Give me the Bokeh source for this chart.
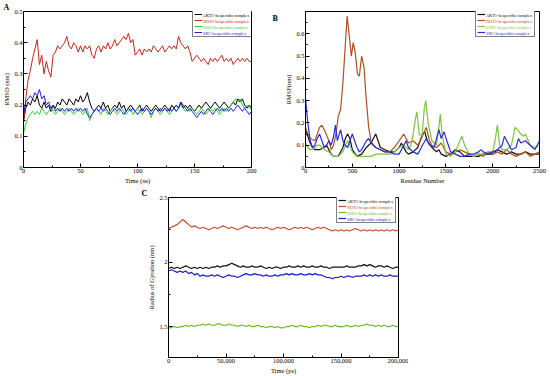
from bokeh.plotting import figure
from bokeh.models import (Legend, LegendItem, Label, FixedTicker, NumeralTickFormatter,
                          Range1d, Spacer)
from bokeh.layouts import row, column
from bokeh.embed import file_html
from bokeh.resources import INLINE

SERIF = "Liberation Serif"
LABELS = ["AKT1-hesperidin complex", "NOS3-hesperidin complex",
          "ESR1-hesperidin complex", "SRC-hesperidin complex"]

# ---------------- Panel A : RMSD (nm) vs Time (ns) ----------------
tA = list(range(0, 201, 2))
rmsd_akt1 = [0.15, 0.19, 0.21, 0.20, 0.22, 0.21, 0.23, 0.20, 0.19, 0.21,
             0.19, 0.20, 0.18, 0.20, 0.19, 0.21, 0.20, 0.22, 0.21, 0.20,
             0.22, 0.21, 0.20, 0.22, 0.21, 0.23, 0.21, 0.22, 0.24, 0.21,
             0.19, 0.18, 0.19, 0.20, 0.19, 0.21, 0.19, 0.20, 0.18, 0.19,
             0.20, 0.19, 0.21, 0.19, 0.20, 0.18, 0.19, 0.20, 0.19, 0.18,
             0.19, 0.20, 0.18, 0.19, 0.20, 0.19, 0.18, 0.19, 0.20, 0.19,
             0.18, 0.19, 0.20, 0.19, 0.18, 0.20, 0.19, 0.20, 0.19, 0.21,
             0.19, 0.20, 0.19, 0.20, 0.19, 0.18, 0.19, 0.20, 0.19, 0.20,
             0.21, 0.20, 0.19, 0.20, 0.21, 0.20, 0.19, 0.20, 0.21, 0.20,
             0.19, 0.20, 0.21, 0.20, 0.22, 0.21, 0.22, 0.20, 0.19, 0.20,
             0.19]
rmsd_nos3 = [0.14, 0.22, 0.28, 0.31, 0.35, 0.38, 0.41, 0.33, 0.36, 0.30,
             0.34, 0.31, 0.29, 0.36, 0.37, 0.39, 0.38, 0.39, 0.40, 0.42,
             0.39, 0.38, 0.40, 0.39, 0.37, 0.39, 0.37, 0.39, 0.38, 0.39,
             0.36, 0.35, 0.38, 0.39, 0.37, 0.39, 0.38, 0.40, 0.38, 0.39,
             0.41, 0.39, 0.40, 0.41, 0.42, 0.41, 0.43, 0.40, 0.41, 0.36,
             0.37, 0.38, 0.36, 0.38, 0.37, 0.38, 0.37, 0.39, 0.38, 0.37,
             0.38, 0.39, 0.37, 0.38, 0.39, 0.38, 0.39, 0.38, 0.42, 0.40,
             0.39, 0.38, 0.39, 0.37, 0.34, 0.35, 0.36, 0.35, 0.34, 0.35,
             0.34, 0.33, 0.35, 0.34, 0.35, 0.34, 0.35, 0.36, 0.34, 0.35,
             0.34, 0.35, 0.33, 0.34, 0.35, 0.34, 0.35, 0.34, 0.35, 0.34,
             0.34]
rmsd_esr1 = [0.11, 0.14, 0.16, 0.17, 0.18, 0.17, 0.18, 0.17, 0.19, 0.18,
             0.17, 0.18, 0.19, 0.18, 0.17, 0.18, 0.19, 0.18, 0.17, 0.18,
             0.19, 0.18, 0.17, 0.18, 0.19, 0.18, 0.17, 0.18, 0.19, 0.15,
             0.17, 0.18, 0.19, 0.18, 0.17, 0.19, 0.18, 0.17, 0.18, 0.19,
             0.18, 0.17, 0.18, 0.19, 0.18, 0.17, 0.18, 0.19, 0.17, 0.18,
             0.19, 0.18, 0.17, 0.18, 0.19, 0.18, 0.16, 0.18, 0.19, 0.18,
             0.17, 0.18, 0.19, 0.18, 0.17, 0.18, 0.19, 0.18, 0.19, 0.20,
             0.19, 0.18, 0.19, 0.18, 0.19, 0.18, 0.17, 0.18, 0.19, 0.18,
             0.17, 0.18, 0.19, 0.18, 0.19, 0.18, 0.17, 0.18, 0.19, 0.18,
             0.19, 0.20, 0.21, 0.22, 0.21, 0.22, 0.20, 0.19, 0.20, 0.19,
             0.19]
rmsd_src = [0.17, 0.21, 0.22, 0.23, 0.22, 0.24, 0.23, 0.25, 0.22, 0.23,
            0.20, 0.21, 0.19, 0.20, 0.18, 0.19, 0.18, 0.19, 0.18, 0.19,
            0.18, 0.19, 0.18, 0.19, 0.18, 0.19, 0.18, 0.19, 0.17, 0.16,
            0.17, 0.18, 0.19, 0.18, 0.19, 0.18, 0.19, 0.18, 0.17, 0.18,
            0.19, 0.18, 0.19, 0.18, 0.17, 0.18, 0.19, 0.18, 0.19, 0.18,
            0.17, 0.18, 0.19, 0.18, 0.19, 0.18, 0.17, 0.18, 0.19, 0.18,
            0.19, 0.18, 0.19, 0.18, 0.19, 0.18, 0.19, 0.18, 0.19, 0.21,
            0.20, 0.19, 0.18, 0.19, 0.18, 0.17, 0.16, 0.17, 0.18, 0.17,
            0.18, 0.19, 0.18, 0.17, 0.18, 0.19, 0.18, 0.19, 0.18, 0.19,
            0.18, 0.19, 0.18, 0.19, 0.20, 0.19, 0.18, 0.19, 0.18, 0.17,
            0.18]

# ---------------- Panel B : RMSF (nm) vs Residue Number ----------------
res_akt1 = [0, 25, 50, 75, 100, 150, 200, 225, 250, 275,
            300, 350, 400, 425, 450, 475, 500, 550, 600, 650,
            700, 725, 750, 775, 800, 850, 900, 950, 1000, 1025,
            1050, 1075, 1100, 1150, 1200, 1250, 1275, 1300, 1350, 1400,
            1425, 1450, 1500, 1550, 1600, 1650, 1700, 1750, 1800, 1850,
            1900, 1950, 2000, 2050, 2100, 2150, 2200, 2250, 2300, 2350,
            2400, 2450, 2500]
rmsf_akt1 = [0.17, 0.14, 0.11, 0.09, 0.08, 0.08, 0.09, 0.10, 0.08, 0.06,
             0.05, 0.05, 0.09, 0.13, 0.15, 0.13, 0.08, 0.05, 0.06, 0.09,
             0.11, 0.13, 0.15, 0.12, 0.09, 0.08, 0.07, 0.07, 0.09, 0.11,
             0.09, 0.07, 0.06, 0.07, 0.09, 0.15, 0.16, 0.12, 0.09, 0.07,
             0.08, 0.06, 0.05, 0.06, 0.08, 0.07, 0.05, 0.05, 0.05, 0.05,
             0.06, 0.06, 0.06, 0.08, 0.07, 0.06, 0.07, 0.06, 0.06, 0.07,
             0.06, 0.06, 0.06]
res_nos3 = [0, 25, 50, 100, 150, 175, 200, 250, 275, 300,
            325, 350, 375, 400, 425, 445, 470, 490, 510, 530,
            555, 575, 600, 625, 650, 675, 700, 725, 750, 800,
            850, 900, 950, 1000, 1050, 1075, 1100, 1150, 1200, 1250,
            1290, 1325, 1350, 1400, 1450, 1500, 1550, 1600, 1650, 1700,
            1750, 1800, 1850, 1900, 1950, 2000, 2050, 2100, 2150, 2200,
            2250, 2300, 2350, 2400, 2450, 2500]
rmsf_nos3 = [0.18, 0.15, 0.13, 0.12, 0.18, 0.19, 0.17, 0.12, 0.08, 0.10,
             0.15, 0.23, 0.26, 0.38, 0.55, 0.68, 0.58, 0.50, 0.56, 0.52,
             0.42, 0.41, 0.50, 0.45, 0.30, 0.18, 0.12, 0.10, 0.09, 0.08,
             0.07, 0.07, 0.09, 0.12, 0.15, 0.13, 0.11, 0.12, 0.10, 0.14,
             0.18, 0.12, 0.10, 0.09, 0.11, 0.07, 0.06, 0.07, 0.08, 0.07,
             0.06, 0.05, 0.06, 0.05, 0.07, 0.06, 0.07, 0.06, 0.08, 0.06,
             0.05, 0.06, 0.07, 0.05, 0.06, 0.07]
res_esr1 = [0, 25, 50, 75, 100, 125, 150, 175, 200, 250,
            275, 300, 350, 400, 425, 450, 475, 500, 550, 600,
            650, 700, 750, 800, 850, 900, 950, 1000, 1050, 1100,
            1125, 1150, 1175, 1190, 1215, 1245, 1270, 1285, 1310, 1350,
            1400, 1425, 1440, 1460, 1500, 1550, 1600, 1650, 1670, 1700,
            1725, 1750, 1800, 1850, 1900, 1950, 2000, 2025, 2050, 2075,
            2100, 2150, 2200, 2240, 2265, 2300, 2330, 2350, 2400, 2450,
            2500]
rmsf_esr1 = [0.11, 0.09, 0.08, 0.08, 0.09, 0.10, 0.10, 0.09, 0.08, 0.07,
             0.06, 0.05, 0.05, 0.07, 0.10, 0.12, 0.10, 0.07, 0.05, 0.05,
             0.05, 0.05, 0.06, 0.06, 0.06, 0.06, 0.07, 0.09, 0.10, 0.08,
             0.10, 0.15, 0.22, 0.25, 0.15, 0.14, 0.27, 0.30, 0.20, 0.12,
             0.10, 0.18, 0.24, 0.15, 0.06, 0.05, 0.07, 0.12, 0.14, 0.10,
             0.08, 0.06, 0.05, 0.06, 0.06, 0.07, 0.07, 0.12, 0.19, 0.10,
             0.08, 0.08, 0.10, 0.18, 0.17, 0.15, 0.14, 0.15, 0.10, 0.09,
             0.10]
res_src = [0, 25, 50, 75, 100, 125, 150, 175, 200, 225,
           250, 275, 300, 320, 340, 375, 400, 425, 450, 475,
           500, 525, 550, 575, 600, 625, 650, 675, 700, 750,
           800, 850, 900, 950, 1000, 1050, 1075, 1100, 1150, 1200,
           1250, 1290, 1325, 1375, 1425, 1450, 1480, 1510, 1550, 1600,
           1650, 1700, 1750, 1800, 1850, 1875, 1900, 1950, 2000, 2050,
           2100, 2125, 2150, 2200, 2250, 2275, 2300, 2350, 2400, 2450,
           2500]
rmsf_src = [0.31, 0.20, 0.12, 0.09, 0.10, 0.13, 0.15, 0.12, 0.09, 0.10,
            0.12, 0.10, 0.14, 0.19, 0.12, 0.17, 0.12, 0.10, 0.09, 0.12,
            0.15, 0.12, 0.09, 0.07, 0.08, 0.10, 0.12, 0.13, 0.11, 0.09,
            0.08, 0.07, 0.07, 0.06, 0.06, 0.10, 0.12, 0.09, 0.07, 0.06,
            0.10, 0.13, 0.10, 0.09, 0.17, 0.13, 0.16, 0.12, 0.07, 0.06,
            0.05, 0.05, 0.06, 0.06, 0.07, 0.08, 0.07, 0.06, 0.07, 0.08,
            0.10, 0.14, 0.12, 0.08, 0.09, 0.13, 0.11, 0.12, 0.10, 0.08,
            0.12]

# ---------------- Panel C : Radius of Gyration (nm) vs Time (ps) ----------------
tC = list(range(0, 200001, 2500))
rg_akt1 = [1.95, 1.96, 1.95, 1.96, 1.95, 1.96, 1.97, 1.96, 1.95, 1.96,
           1.95, 1.96, 1.95, 1.96, 1.95, 1.96, 1.96, 1.97, 1.96, 1.97,
           1.97, 1.98, 1.99, 1.98, 1.97, 1.96, 1.97, 1.96, 1.96, 1.97,
           1.96, 1.96, 1.97, 1.96, 1.95, 1.96, 1.95, 1.96, 1.96, 1.95,
           1.96, 1.96, 1.97, 1.96, 1.96, 1.97, 1.96, 1.97, 1.96, 1.96,
           1.97, 1.96, 1.96, 1.97, 1.96, 1.96, 1.95, 1.96, 1.96, 1.96,
           1.96, 1.96, 1.97, 1.96, 1.96, 1.96, 1.97, 1.97, 1.98, 1.97,
           1.98, 1.97, 1.96, 1.97, 1.97, 1.96, 1.97, 1.96, 1.95, 1.96,
           1.96]
rg_nos3 = [2.26, 2.27, 2.28, 2.29, 2.31, 2.33, 2.31, 2.29, 2.27, 2.28,
           2.27, 2.26, 2.27, 2.26, 2.25, 2.26, 2.27, 2.26, 2.27, 2.28,
           2.27, 2.26, 2.27, 2.26, 2.25, 2.26, 2.27, 2.28, 2.27, 2.26,
           2.27, 2.26, 2.27, 2.26, 2.27, 2.26, 2.25, 2.26, 2.27, 2.26,
           2.27, 2.26, 2.25, 2.26, 2.27, 2.26, 2.27, 2.26, 2.27, 2.26,
           2.25, 2.26, 2.27, 2.26, 2.27, 2.26, 2.25, 2.24, 2.25, 2.24,
           2.25, 2.24, 2.25, 2.24, 2.25, 2.26, 2.25, 2.24, 2.25, 2.24,
           2.25, 2.24, 2.25, 2.24, 2.25, 2.24, 2.25, 2.24, 2.25, 2.24,
           2.25]
rg_esr1 = [1.49, 1.49, 1.50, 1.49, 1.50, 1.50, 1.51, 1.50, 1.51, 1.50,
           1.51, 1.51, 1.52, 1.51, 1.52, 1.51, 1.51, 1.52, 1.52, 1.51,
           1.51, 1.52, 1.51, 1.51, 1.50, 1.51, 1.51, 1.50, 1.51, 1.50,
           1.50, 1.51, 1.50, 1.50, 1.49, 1.50, 1.50, 1.49, 1.50, 1.49,
           1.49, 1.50, 1.50, 1.51, 1.50, 1.50, 1.51, 1.50, 1.50, 1.49,
           1.50, 1.50, 1.51, 1.50, 1.51, 1.51, 1.50, 1.50, 1.51, 1.50,
           1.50, 1.50, 1.51, 1.50, 1.50, 1.51, 1.50, 1.51, 1.51, 1.52,
           1.51, 1.51, 1.50, 1.51, 1.50, 1.51, 1.50, 1.50, 1.51, 1.50,
           1.50]
rg_src = [1.93, 1.94, 1.93, 1.92, 1.93, 1.92, 1.93, 1.91, 1.92, 1.90,
          1.91, 1.89, 1.90, 1.89, 1.89, 1.90, 1.89, 1.90, 1.89, 1.88,
          1.89, 1.90, 1.89, 1.89, 1.88, 1.89, 1.90, 1.91, 1.90, 1.90,
          1.91, 1.90, 1.90, 1.89, 1.90, 1.89, 1.89, 1.90, 1.89, 1.90,
          1.90, 1.91, 1.90, 1.91, 1.90, 1.90, 1.91, 1.90, 1.90, 1.91,
          1.90, 1.91, 1.90, 1.90, 1.89, 1.88, 1.88, 1.87, 1.88, 1.88,
          1.89, 1.88, 1.89, 1.89, 1.88, 1.89, 1.89, 1.89, 1.90, 1.89,
          1.90, 1.89, 1.90, 1.89, 1.90, 1.89, 1.89, 1.90, 1.89, 1.89,
          1.89]

COLORS_A = ["#000000", "#cc2418", "#2fd22f", "#1e1ee0"]
COLORS_B = ["#111111", "#b4501e", "#7ac83c", "#2a2ae0"]
COLORS_C = ["#111111", "#c4502a", "#66bb22", "#1a1ad0"]


def style(p, xt, xm, yt, ym, xlabel, ylabel, yover=None, xfmt=None):
    p.xaxis.ticker = FixedTicker(ticks=xt, minor_ticks=xm)
    p.yaxis.ticker = FixedTicker(ticks=yt, minor_ticks=ym)
    if yover:
        p.yaxis.major_label_overrides = yover
    if xfmt is not None:
        p.xaxis.formatter = xfmt
    p.xaxis.axis_label = xlabel
    p.yaxis.axis_label = ylabel
    for ax in (p.xaxis[0], p.yaxis[0]):
        ax.major_tick_in = 4
        ax.major_tick_out = 0
        ax.minor_tick_in = 2
        ax.minor_tick_out = 0
        ax.major_tick_line_color = "black"
        ax.minor_tick_line_color = "black"
        ax.axis_line_color = "black"
        ax.major_label_text_font = SERIF
        ax.major_label_text_font_size = "6.5px"
        ax.major_label_text_color = "black"
        ax.major_label_standoff = 1
        ax.axis_label_text_font = SERIF
        ax.axis_label_text_font_size = "6.5px"
        ax.axis_label_text_font_style = "normal"
        ax.axis_label_text_color = "black"
        ax.axis_label_standoff = 1
    p.xgrid.visible = False
    p.ygrid.visible = False
    p.outline_line_color = "black"
    p.outline_line_alpha = 1
    p.outline_line_width = 1


def add_legend(p, rends, colors, x0, ytop):
    row_h = 6
    pad = 1
    gw = 8
    st = 2
    fs = "4.3px"
    box = Legend(items=[LegendItem(label=l, renderers=[r]) for l, r in zip(LABELS, rends)],
                 location=(x0, ytop - 2 * pad - 4 * row_h), padding=pad, spacing=0,
                 label_height=row_h, glyph_height=row_h, glyph_width=gw, label_standoff=st,
                 label_text_font=SERIF, label_text_font_size=fs, label_text_alpha=0,
                 border_line_color="black", border_line_width=0.8,
                 background_fill_color="white", background_fill_alpha=1, margin=0)
    p.add_layout(box)
    for i, (l, c) in enumerate(zip(LABELS, colors)):
        lg = Legend(items=[LegendItem(label=l, renderers=[rends[i]])],
                    location=(x0 + pad + gw + st, ytop - pad - (i + 1) * row_h),
                    padding=0, spacing=0, label_height=row_h, glyph_height=row_h,
                    glyph_width=0, label_standoff=0,
                    label_text_font=SERIF, label_text_font_size=fs, label_text_color=c,
                    border_line_alpha=0, background_fill_alpha=0, margin=0)
        p.add_layout(lg)


def letter_title(p, offset):
    p.title.align = "left"
    p.title.offset = offset
    p.title.standoff = 0
    p.title.text_font = SERIF
    p.title.text_font_size = "8px"
    p.title.text_font_style = "bold"
    p.title.text_color = "black"


common = dict(output_backend="svg", toolbar_location=None,
              background_fill_color="white", border_fill_color="white")

# Panel A
pA = figure(width=259, height=186, x_range=Range1d(0, 200), y_range=Range1d(0, 0.5),
            title="A", min_border_left=23, min_border_right=8, min_border_top=0,
            min_border_bottom=17, **common)
rA = [pA.line(tA, ys, line_color=c, line_width=1)
      for ys, c in zip([rmsd_akt1, rmsd_nos3, rmsd_esr1, rmsd_src], COLORS_A)]
style(pA, [0, 50, 100, 150, 200], [25, 75, 125, 175],
      [0, 0.1, 0.2, 0.3, 0.4, 0.5], [0.05, 0.15, 0.25, 0.35, 0.45],
      "Time (ns)", "RMSD (nm)", yover={0: "0"})
add_legend(pA, rA, COLORS_A, 169, 156)
letter_title(pA, -20)

# Narrow strip that carries the panel letter "B" (screen-pixel coordinates)
pL = figure(width=22, height=186, x_range=Range1d(0, 22), y_range=Range1d(186, 0),
            title=None, x_axis_type=None, y_axis_type=None, min_border=0, **common)
pL.outline_line_color = None
pL.xgrid.visible = False
pL.ygrid.visible = False
pL.add_layout(Label(x=13, y=3, text="B", text_font=SERIF, text_font_size="8px",
                    text_font_style="bold", text_color="black",
                    text_align="left", text_baseline="top"))

# Panel B
pB = figure(width=269, height=186, x_range=Range1d(0, 2500), y_range=Range1d(0, 0.70),
            title=None, min_border_left=24, min_border_right=11, min_border_top=2,
            min_border_bottom=17, **common)
rB = [pB.line(xs, ys, line_color=c, line_width=1.2)
      for xs, ys, c in zip([res_akt1, res_nos3, res_esr1, res_src],
                           [rmsf_akt1, rmsf_nos3, rmsf_esr1, rmsf_src], COLORS_B)]
style(pB, [0, 500, 1000, 1500, 2000, 2500], [250, 750, 1250, 1750, 2250],
      [0, 0.1, 0.2, 0.3, 0.4, 0.5, 0.6], [0.05, 0.15, 0.25, 0.35, 0.45, 0.55, 0.65],
      "Residue Number", "RMSF(nm)", yover={0: "0"})
add_legend(pB, rB, COLORS_B, 170, 156)

# Panel C
pC = figure(width=268, height=190, x_range=Range1d(0, 200000), y_range=Range1d(1.26, 2.5),
            title="C", min_border_left=28, min_border_right=10, min_border_top=0,
            min_border_bottom=16, **common)
rC = [pC.line(tC, ys, line_color=c, line_width=1.2)
      for ys, c in zip([rg_akt1, rg_nos3, rg_esr1, rg_src], COLORS_C)]
style(pC, [0, 50000, 100000, 150000, 200000], [25000, 75000, 125000, 175000],
      [1.5, 2.0, 2.5], [1.75, 2.25],
      "Time (ps)", "Radius of Gyration (nm)", yover={2: "2"},
      xfmt=NumeralTickFormatter(format="0,0"))
add_legend(pC, rC, COLORS_C, 168, 160)
letter_title(pC, -27)

layout = column(row(pA, pL, pB), row(Spacer(width=140, height=190), pC))

with open("out.html", "w") as f:
    f.write(file_html(layout, INLINE))
